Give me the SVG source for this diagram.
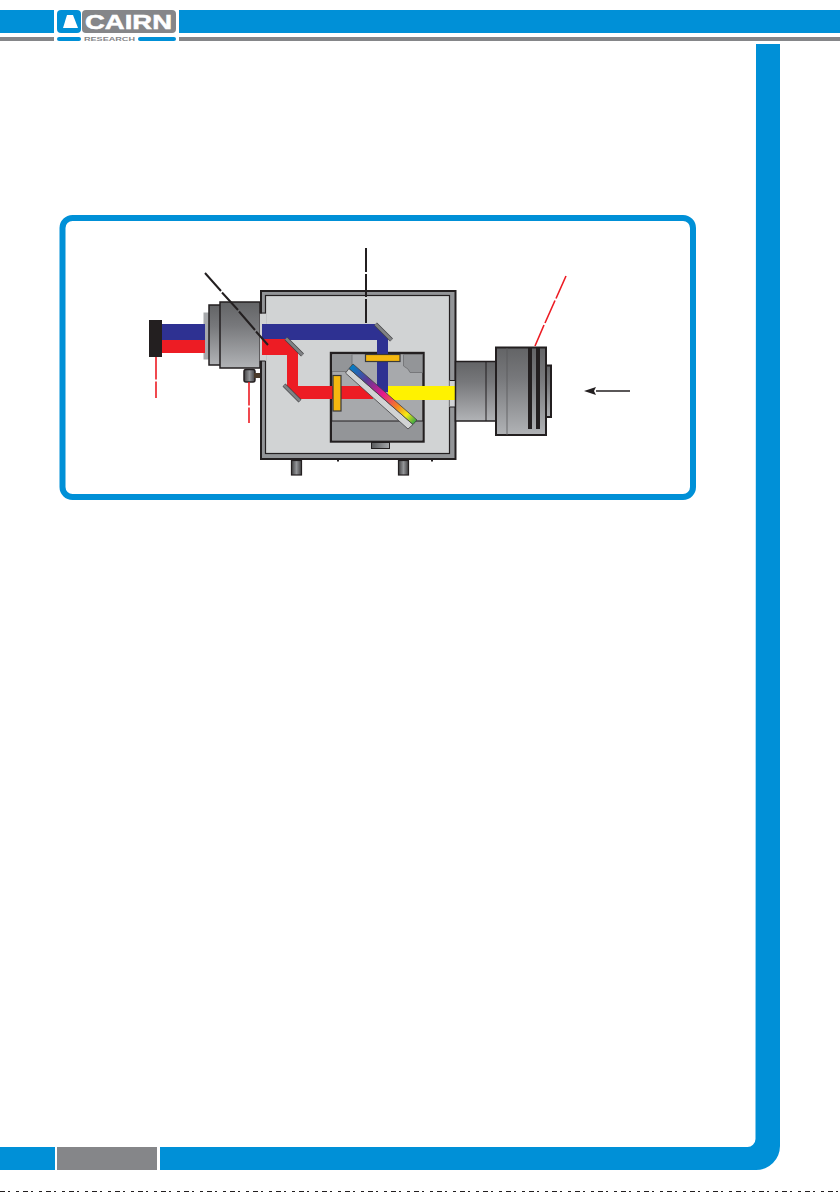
<svg xmlns="http://www.w3.org/2000/svg" width="840" height="1192" viewBox="0 0 840 1192">
<style>
.blue{fill:#0090d7}.grey{fill:#858689}
.part{fill:url(#metal);stroke:#231f20;stroke-width:1.5}
.red{fill:none;stroke:#ed1c24;stroke-width:1.6}
.blk{fill:none;stroke:#231f20;stroke-width:2}
.mir{stroke:#414042;stroke-width:4;fill:none}
.mirc{stroke:#808285;stroke-width:2.800;fill:none}
.filt{fill:#f5b80f;stroke:#3a3a3a;stroke-width:1.2}
.ln{stroke:#231f20;stroke-width:1;fill:none}
</style>
<defs>
<linearGradient id="metal" x1="0" y1="0" x2="0" y2="1"><stop offset="0" stop-color="#636466"/><stop offset="0.35" stop-color="#77787b"/><stop offset="1" stop-color="#b1b3b6"/></linearGradient>
<linearGradient id="side" x1="0" y1="0" x2="1" y2="0"><stop offset="0" stop-color="#414042"/><stop offset="0.5" stop-color="#939598"/><stop offset="1" stop-color="#414042"/></linearGradient>
<linearGradient id="tab" x1="0" y1="0" x2="1" y2="0"><stop offset="0" stop-color="#58595b"/><stop offset="1" stop-color="#a7a9ac"/></linearGradient>
<linearGradient id="spec" gradientUnits="userSpaceOnUse" x1="351" y1="366" x2="415" y2="422"><stop offset="0" stop-color="#0081c6"/><stop offset="0.25" stop-color="#5b3a95"/><stop offset="0.5" stop-color="#e6178d"/><stop offset="0.72" stop-color="#f58220"/><stop offset="0.87" stop-color="#f7ec13"/><stop offset="1" stop-color="#3aa845"/></linearGradient>
</defs>

<g id="page-header">
<rect class="blue" x="0" y="10" width="54" height="23"/>
<rect class="blue" x="179" y="10" width="661" height="23"/>
<rect class="grey" x="0" y="37" width="54" height="4"/>
<rect class="grey" x="179" y="37" width="661" height="4"/>
</g>
<g id="logo">
<rect class="blue" x="57" y="10" width="24" height="23" rx="4"/>
<path d="M67 15H73L78 28H63Z" fill="#fff"/>
<rect class="grey" x="82" y="10" width="94" height="23" rx="4"/>
<text x="85" y="29" font-family="'Liberation Sans',Arial,sans-serif" font-weight="700" font-size="20" fill="#fff" stroke="#fff" stroke-width="0.500" textLength="87" lengthAdjust="spacingAndGlyphs">CAIRN</text>
<rect class="blue" x="57" y="37" width="24" height="4" rx="2"/>
<rect class="blue" x="138" y="37" width="38" height="4" rx="2"/>
<text x="84" y="41" font-family="'Liberation Sans',Arial,sans-serif" font-weight="700" font-size="6" fill="#858689" textLength="51" lengthAdjust="spacingAndGlyphs">RESEARCH</text>
</g>
<g id="page-border">
<path class="blue" d="M756 44H780V1146A24 24 0 0 1 756 1170H160V1147H747A8 8 0 0 0 755.500 1139Z"/>
<rect class="blue" x="0" y="1147" width="55" height="23"/>
<rect class="grey" x="57" y="1147" width="100" height="23"/>
<line x1="0" y1="1191.500" x2="840" y2="1191.500" stroke="#231f20" stroke-width="1" stroke-dasharray="5 3 2 6 3 4"/>
</g>
<rect id="frame" x="62.500" y="218" width="630.500" height="279" rx="10" fill="#fff" stroke="#0090d7" stroke-width="6"/>

<g id="left-lens">
<rect x="204" y="313" width="6" height="46" fill="#a7a9ac" stroke="#a7a9ac" stroke-width="1"/>
<rect class="part" x="209" y="305" width="12" height="60"/>
<rect class="part" x="220" y="302" width="40" height="66"/>
<rect x="244" y="369.500" width="11" height="12.500" rx="2" fill="url(#side)" stroke="#231f20" stroke-width="1.500"/>
<rect x="254" y="373" width="6" height="5" fill="#4a3a2a"/>
</g>
<g id="housing">
<rect x="261" y="291" width="194.500" height="168" fill="#939598" stroke="#231f20" stroke-width="2"/>
<rect x="265.500" y="295.500" width="184" height="158" fill="#d1d3d4" stroke="#231f20" stroke-width="1.200"/>
<rect x="259.800" y="313.500" width="6.400" height="47.500" fill="#d1d3d4"/>
<path d="M260 313H265.500M260 361H265.500" stroke="#231f20" stroke-width="1.200"/>
<rect x="449.500" y="380.500" width="7" height="26.500" fill="#d1d3d4"/>
<path d="M450 380.500H456M450 407H456" stroke="#231f20" stroke-width="1.200"/>
<path d="M338 460v1.500M432 460v1.500" stroke="#231f20" stroke-width="2"/>
</g>
<g id="feet">
<rect x="291.500" y="460.500" width="10" height="14.500" fill="url(#side)" stroke="#231f20" stroke-width="1.200"/>
<rect x="398.500" y="460.500" width="10" height="14.500" fill="url(#side)" stroke="#231f20" stroke-width="1.200"/>
</g>
<g id="cube">
<rect x="331" y="353" width="92.500" height="88.500" fill="#a7a9ac" stroke="#231f20" stroke-width="2.400"/>
<rect x="332" y="421" width="90.500" height="19.500" fill="#939598"/>
<path d="M332 421H423" class="ln"/>
<rect x="332" y="354.500" width="20" height="17" fill="#939598"/>
<path d="M352 354.500V371.500M332 371.500H352" stroke="#6d6e71" stroke-width="0.800"/>
<path d="M403.500 354.500H422.500V372.500H410L408 369 403.500 366Z" fill="#939598" stroke="#6d6e71" stroke-width="0.800"/>
<rect x="371.500" y="442.500" width="18" height="6" fill="url(#tab)" stroke="#231f20" stroke-width="1"/>
</g>
<g id="beams">
<rect x="162" y="324" width="43" height="16" fill="#2e3192"/>
<rect x="162" y="340" width="43" height="13" fill="#ed1c24"/>
<path d="M262 324H375L388 337V392H377V340H262Z" fill="#2e3192"/>
<path d="M262 339H285L298 352V386H373V399H298L287 389V355H262Z" fill="#ed1c24"/>
<path d="M388 386H455V400H388Z" fill="#fff200"/>
</g>
<g id="optics">
<path class="mir" d="M286 338.500 302.500 355"/><path class="mirc" d="M286 338.500 302.500 355"/>
<path class="mir" d="M284 385 300 401"/><path class="mirc" d="M284 385 300 401"/>
<path class="mir" d="M375.500 324 391.500 340"/><path class="mirc" d="M375.500 324 391.500 340"/>
<rect class="filt" x="365.500" y="354.500" width="34.500" height="7"/>
<rect class="filt" x="333" y="375.500" width="8" height="35.500"/>
<path d="M349 368.500 413 424.500 408 429 345.500 373Z" fill="#d1d3d4" stroke="#414042" stroke-width="0.800"/>
<path d="M353 364 417 420 413 424.500 349 368.500Z" fill="url(#spec)" stroke="#414042" stroke-width="0.800"/>
</g>
<g id="left-detector"><rect x="149" y="320" width="13" height="37" fill="#231f20"/></g>
<g id="right-lens">
<rect class="part" x="455.500" y="361.500" width="41" height="59.500"/>
<path d="M486 362V421" class="ln" stroke-width="0.800"/>
<rect class="part" x="546" y="365.500" width="5" height="51.500" style="stroke-width:2"/>
<rect class="part" x="496" y="347.500" width="50" height="87.500" style="stroke-width:2"/>
<path d="M507 348V435" stroke="#58595b" stroke-width="0.800"/>
<rect x="528" y="348" width="4" height="81" fill="#231f20"/>
<rect x="536" y="348" width="4" height="81" fill="#231f20"/>
</g>
<g id="connectors">
<path class="red" d="M156 357V379.500M156 381.500V398"/>
<path class="red" d="M249 382V405.500M249 407.500V423"/>
<path class="red" d="M566 276 556 298.500M555 300.500 545 323M544 325 535 346"/>
<path class="blk" d="M205 273 221 291M222 292.500 238 310M239 311.500 255 330M256 331.500 268 345"/>
<path class="blk" d="M366 248V272M366 274V297M366 299V323"/>
<line x1="630" y1="391" x2="596" y2="391" stroke="#231f20" stroke-width="1.600"/>
<path d="M584 391 596 387 594 391 596 395Z" fill="#231f20"/>
</g>
</svg>
